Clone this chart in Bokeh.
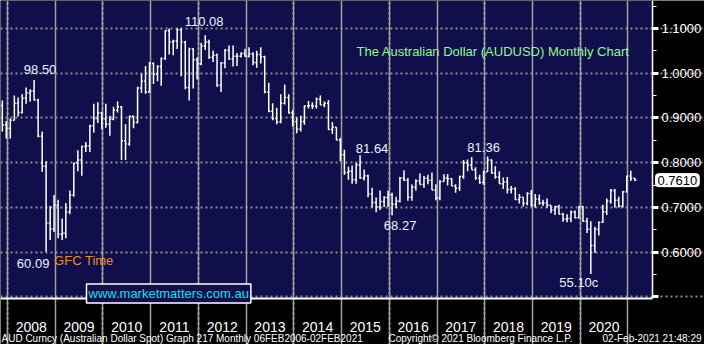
import pandas as pd
from bokeh.plotting import figure
from bokeh.models import (ColumnDataSource, FixedTicker, CustomJSTickFormatter,
                          LinearAxis, Label, Range1d, Grid, BoxAnnotation)
from bokeh.embed import file_html
from bokeh.resources import INLINE

# ---------------- data: AUDUSD monthly OHLC (Nov 2007 - Feb 2021) ----------------
first_month = "2007-11-01"
opens = [
    0.9280, 0.8850,
    0.8770, 0.8950, 0.9330, 0.9120, 0.9440, 0.9560, 0.9600, 0.9400, 0.8590, 0.7920, 0.6650, 0.6520,
    0.7050, 0.6400, 0.6420, 0.6900, 0.7280, 0.7990, 0.8060, 0.8360, 0.8380, 0.8820, 0.8990, 0.9110,
    0.8980, 0.8860, 0.8970, 0.9170, 0.9250, 0.8490, 0.8420, 0.9040, 0.8900, 0.9670, 0.9820, 0.9580,
    1.0220, 0.9980, 1.0150, 1.0330, 1.0950, 1.0700, 1.0720, 1.0970, 1.0700, 0.9680, 1.0540, 1.0300,
    1.0210, 1.0610, 1.0700, 1.0360, 1.0400, 0.9730, 1.0230, 1.0510, 1.0320, 1.0380, 1.0380, 1.0440,
    1.0380, 1.0430, 1.0240, 1.0420, 1.0370, 0.9580, 0.9150, 0.8990, 0.8910, 0.9330, 0.9460, 0.9110,
    0.8920, 0.8750, 0.8920, 0.9270, 0.9280, 0.9270, 0.9420, 0.9290, 0.9330, 0.8740, 0.8790, 0.8510,
    0.8180, 0.7780, 0.7810, 0.7620, 0.7950, 0.7660, 0.7710, 0.7300, 0.7110, 0.7010, 0.7130, 0.7220,
    0.7280, 0.7070, 0.7140, 0.7660, 0.7610, 0.7230, 0.7450, 0.7590, 0.7510, 0.7650, 0.7610, 0.7390,
    0.7210, 0.7580, 0.7660, 0.7640, 0.7480, 0.7430, 0.7690, 0.8000, 0.7950, 0.7840, 0.7650, 0.7560,
    0.7800, 0.8060, 0.7770, 0.7680, 0.7530, 0.7570, 0.7400, 0.7420, 0.7180, 0.7230, 0.7090, 0.7310,
    0.7050, 0.7190, 0.7100, 0.7100, 0.7050, 0.6940, 0.7020, 0.6850, 0.6740, 0.6750, 0.6900, 0.6770,
    0.7020, 0.6690, 0.6510, 0.6150, 0.6510, 0.6670, 0.6900, 0.7140, 0.7380, 0.7160, 0.7030, 0.7350,
    0.7700, 0.7650,
]
highs = [
    0.9390, 0.8930,
    0.8990, 0.9500, 0.9460, 0.9530, 0.9680, 0.9640, 0.9850, 0.9430, 0.8700, 0.8030, 0.7030, 0.7280,
    0.7170, 0.6750, 0.7100, 0.7380, 0.8000, 0.8280, 0.8380, 0.8460, 0.8850, 0.9320, 0.9350, 0.9140,
    0.9320, 0.9050, 0.9250, 0.9370, 0.9260, 0.8860, 0.9050, 0.9050, 0.9700, 0.9990, 1.0160, 1.0250,
    1.0240, 1.0180, 1.0350, 1.0960, 1.1000, 1.0750, 1.1008, 1.1000, 1.0720, 1.0570, 1.0560, 1.0360,
    1.0680, 1.0850, 1.0750, 1.0510, 1.0440, 1.0250, 1.0540, 1.0620, 1.0620, 1.0450, 1.0470, 1.0550,
    1.0580, 1.0470, 1.0500, 1.0580, 1.0390, 0.9790, 0.9330, 0.9230, 0.9530, 0.9750, 0.9530, 0.9180,
    0.9010, 0.9050, 0.9280, 0.9380, 0.9350, 0.9460, 0.9500, 0.9370, 0.9400, 0.8910, 0.8790, 0.8550,
    0.8290, 0.7910, 0.7940, 0.8000, 0.8164, 0.7850, 0.7730, 0.7440, 0.7220, 0.7380, 0.7250, 0.7380,
    0.7330, 0.7240, 0.7680, 0.7830, 0.7660, 0.7510, 0.7630, 0.7760, 0.7700, 0.7730, 0.7780, 0.7520,
    0.7610, 0.7740, 0.7750, 0.7660, 0.7520, 0.7710, 0.8060, 0.8070, 0.8125, 0.7900, 0.7730, 0.7820,
    0.8136, 0.8070, 0.7920, 0.7810, 0.7670, 0.7680, 0.7480, 0.7450, 0.7300, 0.7230, 0.7340, 0.7390,
    0.7300, 0.7290, 0.7170, 0.7200, 0.7050, 0.7030, 0.7060, 0.6880, 0.6850, 0.6930, 0.6930, 0.7030,
    0.7030, 0.6770, 0.6690, 0.6570, 0.6680, 0.7060, 0.7200, 0.7410, 0.7410, 0.7240, 0.7370, 0.7710,
    0.7820, 0.7660,
]
lows = [
    0.8700, 0.8540,
    0.8540, 0.8950, 0.9030, 0.9100, 0.9320, 0.9360, 0.9390, 0.8570, 0.7800, 0.6009, 0.6270, 0.6450,
    0.6310, 0.6270, 0.6310, 0.6850, 0.7240, 0.7810, 0.7710, 0.8240, 0.8240, 0.8670, 0.8890, 0.8750,
    0.8780, 0.8600, 0.8950, 0.9120, 0.8060, 0.8060, 0.8380, 0.8770, 0.8880, 0.9560, 0.9540, 0.9560,
    0.9760, 0.9820, 0.9720, 1.0300, 1.0420, 1.0400, 1.0540, 0.9930, 0.9640, 0.9390, 0.9660, 0.9860,
    1.0180, 1.0520, 1.0320, 1.0250, 0.9700, 0.9580, 1.0110, 1.0300, 1.0150, 1.0160, 1.0350, 1.0370,
    1.0350, 1.0180, 1.0120, 1.0220, 0.9550, 0.9130, 0.8950, 0.8860, 0.8880, 0.9300, 0.9100, 0.8810,
    0.8660, 0.8700, 0.8850, 0.9210, 0.9200, 0.9210, 0.9290, 0.9240, 0.8740, 0.8640, 0.8500, 0.8030,
    0.7730, 0.7620, 0.7530, 0.7530, 0.7640, 0.7600, 0.7230, 0.7000, 0.6890, 0.6940, 0.7010, 0.7010,
    0.6827, 0.6980, 0.7110, 0.7590, 0.7150, 0.7150, 0.7380, 0.7510, 0.7440, 0.7520, 0.7390, 0.7160,
    0.7160, 0.7580, 0.7490, 0.7480, 0.7330, 0.7370, 0.7640, 0.7810, 0.7840, 0.7620, 0.7530, 0.7500,
    0.7800, 0.7760, 0.7640, 0.7530, 0.7410, 0.7310, 0.7310, 0.7170, 0.7090, 0.7020, 0.7050, 0.7020,
    0.6990, 0.7060, 0.7030, 0.6990, 0.6870, 0.6830, 0.6850, 0.6680, 0.6670, 0.6670, 0.6760, 0.6750,
    0.6680, 0.6430, 0.5510, 0.5980, 0.6370, 0.6650, 0.6830, 0.7080, 0.7000, 0.7000, 0.7000, 0.7340,
    0.7590, 0.7590,
]
closes = [
    0.8850, 0.8770,
    0.8950, 0.9330, 0.9120, 0.9440, 0.9560, 0.9600, 0.9400, 0.8590, 0.7920, 0.6650, 0.6520, 0.7050,
    0.6400, 0.6420, 0.6900, 0.7280, 0.7990, 0.8060, 0.8360, 0.8380, 0.8820, 0.8990, 0.9110, 0.8980,
    0.8860, 0.8970, 0.9170, 0.9250, 0.8490, 0.8420, 0.9040, 0.8900, 0.9670, 0.9820, 0.9580, 1.0220,
    0.9980, 1.0150, 1.0330, 1.0950, 1.0700, 1.0720, 1.0970, 1.0700, 0.9680, 1.0540, 1.0300, 1.0210,
    1.0610, 1.0700, 1.0360, 1.0400, 0.9730, 1.0230, 1.0510, 1.0320, 1.0380, 1.0380, 1.0440, 1.0380,
    1.0430, 1.0240, 1.0420, 1.0370, 0.9580, 0.9150, 0.8990, 0.8910, 0.9330, 0.9460, 0.9110, 0.8920,
    0.8750, 0.8920, 0.9270, 0.9280, 0.9270, 0.9420, 0.9290, 0.9330, 0.8740, 0.8790, 0.8510, 0.8180,
    0.7780, 0.7810, 0.7620, 0.7950, 0.7660, 0.7710, 0.7300, 0.7110, 0.7010, 0.7130, 0.7220, 0.7280,
    0.7070, 0.7140, 0.7660, 0.7610, 0.7230, 0.7450, 0.7590, 0.7510, 0.7650, 0.7610, 0.7390, 0.7210,
    0.7580, 0.7660, 0.7640, 0.7480, 0.7430, 0.7690, 0.8000, 0.7950, 0.7840, 0.7650, 0.7560, 0.7800,
    0.8060, 0.7770, 0.7680, 0.7530, 0.7570, 0.7400, 0.7420, 0.7180, 0.7230, 0.7090, 0.7310, 0.7050,
    0.7190, 0.7100, 0.7100, 0.7050, 0.6940, 0.7020, 0.6850, 0.6740, 0.6750, 0.6900, 0.6770, 0.7020,
    0.6690, 0.6510, 0.6150, 0.6510, 0.6670, 0.6900, 0.7140, 0.7380, 0.7160, 0.7030, 0.7350, 0.7700,
    0.7650, 0.7610,
]

tick_years = list(range(2008, 2022))          # year boundaries on the time axis
label_years = list(range(2008, 2021))         # years that carry a label
price_ticks = [0.5, 0.6, 0.7, 0.8, 0.9, 1.0, 1.1]
price_minor = [0.55, 0.65, 0.75, 0.85, 0.95, 1.05, 1.15]
last_price = 0.7610

title_text = "The Australian Dollar (AUDUSD) Monthly Chart"
footer_left = "AUD Curncy (Australian Dollar Spot) Graph 217  Monthly 06FEB2006-02FEB2021"
footer_mid = "Copyright\u00a9 2021 Bloomberg Finance L.P."
footer_right = "02-Feb-2021 21:48:29"

# ---------------- styling / layout ----------------
NAVY = "#100f4b"
GRID = "#8f8f8f"
FONT = "Liberation Sans"

W, H = 704, 344
CHART_W, CHART_H = 652, 298           # navy chart area inside the canvas
SEP_PX = 32                           # length of year separators below the time axis

x_start = pd.Timestamp("2007-11-09")
x_axis = pd.Timestamp("2021-07-08")   # where the price axis sits
x_end = x_axis + (x_axis - x_start) * ((W - CHART_W) / CHART_W)
y_top, y_axis = 1.1626, 0.4964        # y_axis: where the time axis sits
px_y = (y_top - y_axis) / CHART_H
y_bottom = y_axis - px_y * (H - CHART_H)
y_sep = y_axis - px_y * SEP_PX

months = pd.date_range(first_month, periods=len(closes), freq="MS")
bar_x = months + pd.Timedelta(days=22)
half = pd.Timedelta(days=11)

src = ColumnDataSource(dict(x=bar_x, xl=bar_x - half, xr=bar_x + half,
                            o=opens, h=highs, l=lows, c=closes))


def ms(ts):
    return pd.Timestamp(ts).value // 10**6


p = figure(width=W, height=H, output_backend="svg", toolbar_location=None,
           x_axis_location=None, y_axis_location=None,
           x_range=Range1d(x_start, x_end), y_range=Range1d(y_bottom, y_top),
           min_border=0, min_border_left=0, min_border_right=0,
           min_border_top=0, min_border_bottom=0)
# drop the default grids created by figure()
p.center = [r for r in p.center if not isinstance(r, Grid)]
p.background_fill_color = "black"
p.border_fill_color = "black"
p.outline_line_color = None

# navy chart panel
p.add_layout(BoxAnnotation(right=ms(x_axis), bottom=y_axis, fill_color=NAVY, fill_alpha=1,
                           line_color=None, level="image"))

# grids (dotted), limited to the chart panel
p.add_layout(Grid(dimension=0,
                  ticker=FixedTicker(ticks=[ms(f"{y}-01-01") for y in tick_years if y % 2 == 0]),
                  bounds=(y_axis, y_top),
                  grid_line_color=GRID, grid_line_width=2, grid_line_dash="2 3"))
p.add_layout(Grid(dimension=1, ticker=FixedTicker(ticks=price_ticks),
                  bounds=(ms(x_start), ms(x_axis)),
                  grid_line_color=GRID, grid_line_width=2, grid_line_dash="2 3"))
# year separators in the time-axis strip
p.add_layout(Grid(dimension=0,
                  ticker=FixedTicker(ticks=[ms(f"{y}-01-01") for y in tick_years]),
                  bounds=(y_sep, y_axis),
                  grid_line_color="#a0a0a0", grid_line_width=1.5))

# bottom time axis: labels mid-year
xaxis = LinearAxis(
    fixed_location=y_axis, bounds=(ms(x_start), ms(x_axis)),
    ticker=FixedTicker(ticks=[ms(f"{y}-07-02") for y in label_years]),
    formatter=CustomJSTickFormatter(code="return String(new Date(tick).getUTCFullYear());"),
    axis_line_color="white", axis_line_width=2,
    major_tick_out=0, major_tick_in=0, minor_tick_out=0, minor_tick_in=0,
    major_label_standoff=23,
    major_label_text_color="white", major_label_text_font=FONT,
    major_label_text_font_size="14px")
p.add_layout(xaxis, "below")

# right price axis
yaxis = LinearAxis(
    fixed_location=ms(x_axis), bounds=(y_axis, y_top),
    ticker=FixedTicker(ticks=price_ticks, minor_ticks=price_minor),
    formatter=CustomJSTickFormatter(code="return tick < 0.55 ? '' : tick.toFixed(4);"),
    axis_line_color="white", axis_line_width=1.5,
    major_tick_out=6, major_tick_in=0, major_tick_line_color="white", major_tick_line_width=3,
    minor_tick_out=4, minor_tick_in=0, minor_tick_line_color="white", minor_tick_line_width=1,
    major_label_standoff=3,
    major_label_text_color="white", major_label_text_font=FONT,
    major_label_text_font_size="13px")
p.add_layout(yaxis, "right")

# OHLC bars
p.segment(x0="x", y0="l", x1="x", y1="h", source=src, line_color="white", line_width=1.5)
p.segment(x0="xl", y0="o", x1="x", y1="o", source=src, line_color="white", line_width=1.5)
p.segment(x0="x", y0="c", x1="xr", y1="c", source=src, line_color="white", line_width=1.5)

month_keys = list(months.strftime("%Y-%m"))


def note(month, series, x_off, y_off, text=None, color="#e8f4ff", align="center", suffix=""):
    i = month_keys.index(month)
    val = series[i]
    txt = text if text is not None else f"{val * 100:.2f}{suffix}"
    p.add_layout(Label(x=ms(bar_x[i]), y=val, x_offset=x_off, y_offset=y_off, text=txt,
                       text_color=color, text_font=FONT, text_font_size="13px",
                       text_align=align, text_baseline="middle"))


note("2008-07", highs, 6, 10)
note("2011-07", highs, 27, 7)
note("2015-05", highs, 12, 7)
note("2018-01", highs, -4, 9)
note("2016-01", lows, 8, -10)
note("2020-03", lows, -12, -8, suffix="c")
note("2008-10", lows, -13, -12)
note("2008-10", lows, 8, -9, text="GFC Time", color="#f08a24", align="left")

# chart title
p.add_layout(Label(x=356, y=H - 51, x_units="screen", y_units="screen", text=title_text,
                   text_color="#8dfc8d", text_font=FONT, text_font_size="13px",
                   text_baseline="middle"))

# website box
p.add_layout(Label(x=86, y=H - 293, x_units="screen", y_units="screen",
                   text="www.marketmatters.com.au",
                   text_color="#10e0f0", text_font=FONT, text_font_size="13px",
                   text_baseline="middle", background_fill_color=NAVY,
                   border_line_color="white", border_line_width=1.5, padding=2))

# last price tag on the price axis
p.add_layout(Label(x=CHART_W + 3, y=last_price, x_units="screen", y_units="data",
                   text=f"{last_price:.4f}", text_color="black",
                   text_font=FONT, text_font_size="13px", text_baseline="middle",
                   background_fill_color="white", border_line_color="white", padding=2,
                   border_radius=3))

# footer line
for txt, xx, al in [(footer_left, 1, "left"), (footer_mid, 388, "left"), (footer_right, W - 3, "right")]:
    p.add_layout(Label(x=xx, y=6, x_units="screen", y_units="screen", text=txt,
                       text_color="white", text_font=FONT, text_font_size="10px",
                       text_align=al, text_baseline="middle"))

open("out.html", "w").write(file_html(p, INLINE))
